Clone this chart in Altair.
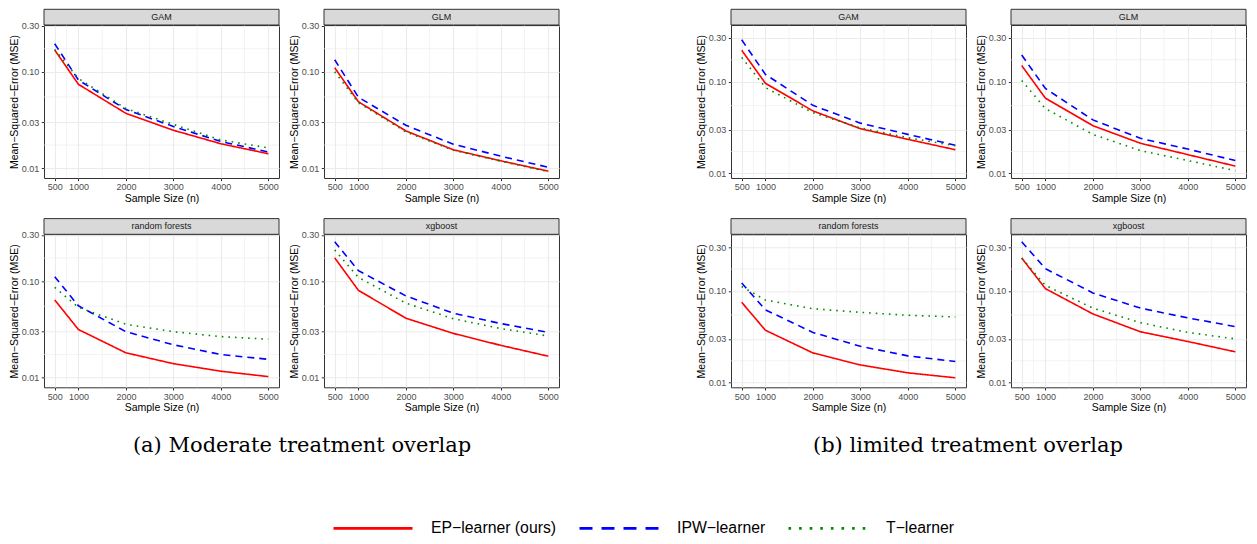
import altair as alt
import pandas as pd

# ---------------- data ----------------
N = [500, 1000, 2000, 3000, 4000, 5000]
LEARNERS = ["EP−learner (ours)", "IPW−learner", "T−learner"]
COLORS = ["#FF0000", "#0000FF", "#008B00"]
PLOT_DASH = [[1, 0], [7, 5], [1.6, 5]]
LEGEND_DASH = [[1, 0], [13, 9], [2.6, 8]]
MODELS = ["GAM", "GLM", "random forests", "xgboost"]

# (a) moderate treatment overlap
A_GAM_EP = [0.168, 0.074, 0.037, 0.0247, 0.0179, 0.0141]
A_GAM_IPW = [0.195, 0.082, 0.0405, 0.027, 0.0189, 0.0147]
A_GAM_T = [0.170, 0.085, 0.0415, 0.0284, 0.0196, 0.0162]
A_GLM_EP = [0.110, 0.0488, 0.0243, 0.0155, 0.0119, 0.0093]
A_GLM_IPW = [0.133, 0.0543, 0.0278, 0.0177, 0.0133, 0.0102]
A_GLM_T = [0.100, 0.0477, 0.0237, 0.0153, 0.0118, 0.0092]
A_RF_EP = [0.0637, 0.0314, 0.0180, 0.0139, 0.0116, 0.0102]
A_RF_IPW = [0.111, 0.0553, 0.0298, 0.0218, 0.0173, 0.0154]
A_RF_T = [0.086, 0.0532, 0.0356, 0.0298, 0.0265, 0.0249]
A_XGB_EP = [0.174, 0.080, 0.0411, 0.0286, 0.0215, 0.0166]
A_XGB_IPW = [0.255, 0.128, 0.070, 0.0463, 0.0362, 0.0293]
A_XGB_T = [0.210, 0.109, 0.0589, 0.0406, 0.0321, 0.0269]

# (b) limited treatment overlap
B_GAM_EP = [0.220, 0.096, 0.048, 0.0307, 0.0235, 0.0181]
B_GAM_IPW = [0.286, 0.120, 0.0552, 0.0353, 0.0266, 0.0203]
B_GAM_T = [0.184, 0.0863, 0.0458, 0.0313, 0.0245, 0.0200]
B_GLM_EP = [0.150, 0.066, 0.0331, 0.0213, 0.0160, 0.0120]
B_GLM_IPW = [0.195, 0.0843, 0.0383, 0.0241, 0.0184, 0.0138]
B_GLM_T = [0.103, 0.0509, 0.0266, 0.0177, 0.0138, 0.0107]
B_RF_EP = [0.0752, 0.0373, 0.0211, 0.0156, 0.0128, 0.0113]
B_RF_IPW = [0.122, 0.0623, 0.0353, 0.0249, 0.0196, 0.0170]
B_RF_T = [0.112, 0.0796, 0.064, 0.0585, 0.0543, 0.0521]
B_XGB_EP = [0.229, 0.106, 0.0562, 0.0359, 0.0281, 0.0217]
B_XGB_IPW = [0.344, 0.175, 0.0952, 0.065, 0.0509, 0.0409]
B_XGB_T = [0.229, 0.115, 0.065, 0.0451, 0.0353, 0.030]

Y_TICKS = [0.01, 0.03, 0.1, 0.3]
Y_MINOR = [0.01732, 0.05477, 0.1732]
X_MINOR = [750, 1500, 2500, 3500, 4500]
CAPTIONS = ["(a) Moderate treatment overlap", "(b) limited treatment overlap"]

SERIES = {
    "A": {
        "GAM": [A_GAM_EP, A_GAM_IPW, A_GAM_T],
        "GLM": [A_GLM_EP, A_GLM_IPW, A_GLM_T],
        "random forests": [A_RF_EP, A_RF_IPW, A_RF_T],
        "xgboost": [A_XGB_EP, A_XGB_IPW, A_XGB_T],
    },
    "B": {
        "GAM": [B_GAM_EP, B_GAM_IPW, B_GAM_T],
        "GLM": [B_GLM_EP, B_GLM_IPW, B_GLM_T],
        "random forests": [B_RF_EP, B_RF_IPW, B_RF_T],
        "xgboost": [B_XGB_EP, B_XGB_IPW, B_XGB_T],
    },
}
Y_DOMAIN = {"A": [0.0079, 0.305], "B": [0.0089, 0.415]}

rows = []
for grp, models in SERIES.items():
    for model, series in models.items():
        for learner, vals in zip(LEARNERS, series):
            for n, v in zip(N, vals):
                rows.append({"grp": grp, "model": model, "learner": learner, "n": n, "mse": v})
df = pd.DataFrame(rows)

# ---------------- layout constants ----------------
W, H = 235, 153
STRIP_H = 15.7
SPACER_W = 81.4
FONT = "Liberation Sans"

x_scale = alt.Scale(domain=[275, 5225], nice=False, zero=False)


def x_axis():
    return alt.Axis(values=N, format="d", title="Sample Size (n)", grid=True,
                    gridColor="#EBEBEB", gridWidth=1.1, domain=False,
                    tickColor="#333333", tickSize=2.7, tickWidth=1,
                    labelColor="#4D4D4D", labelFontSize=9, labelFont=FONT,
                    labelPadding=2, labelOverlap=False, labelFlush=False,
                    titleFont=FONT, titleFontSize=10.5, titleFontWeight="normal",
                    titleColor="black", titlePadding=1.5)


def y_axis():
    return alt.Axis(values=Y_TICKS, format=".2f", title="Mean−Squared−Error (MSE)",
                    grid=True, gridColor="#EBEBEB", gridWidth=1.1, domain=False,
                    tickColor="#333333", tickSize=2.7, tickWidth=1,
                    labelColor="#4D4D4D", labelFontSize=9, labelFont=FONT,
                    labelPadding=2.5, labelOverlap=False, labelFlush=False,
                    titleFont=FONT, titleFontSize=10.5, titleFontWeight="normal",
                    titleColor="black", titlePadding=2)


def panel(grp, model):
    y_scale = alt.Scale(type="log", domain=Y_DOMAIN[grp], nice=False, zero=False)
    sub = df[(df.grp == grp) & (df.model == model)]
    xminor = alt.Chart(pd.DataFrame({"n": X_MINOR})).mark_rule(
        color="#EBEBEB", strokeWidth=0.6).encode(
        x=alt.X("n:Q", scale=x_scale, axis=x_axis()))
    yminor = alt.Chart(pd.DataFrame({"mse": Y_MINOR})).mark_rule(
        color="#EBEBEB", strokeWidth=0.6).encode(
        y=alt.Y("mse:Q", scale=y_scale, axis=y_axis()))
    lines = alt.Chart(sub).mark_line(strokeWidth=1.6).encode(
        x=alt.X("n:Q", scale=x_scale, axis=x_axis()),
        y=alt.Y("mse:Q", scale=y_scale, axis=y_axis()),
        color=alt.Color("learner:N", scale=alt.Scale(domain=LEARNERS, range=COLORS), legend=None),
        strokeDash=alt.StrokeDash("learner:N", scale=alt.Scale(domain=LEARNERS, range=PLOT_DASH),
                                  legend=None),
        order=alt.Order("n:Q"),
    )
    strip_df = pd.DataFrame({"label": [model]})
    strip = alt.Chart(strip_df).mark_rect(fill="#D9D9D9", stroke="#333333", strokeWidth=1).encode(
        x=alt.value(0), x2=alt.value(W), y=alt.value(-STRIP_H), y2=alt.value(0))
    strip_text = alt.Chart(strip_df).mark_text(
        font=FONT, fontSize=9, color="#1A1A1A", baseline="middle", align="center").encode(
        x=alt.value(W / 2), y=alt.value(-STRIP_H / 2), text="label:N")
    return alt.layer(xminor, yminor, lines, strip, strip_text).properties(width=W, height=H)


spacer_top = alt.Chart(pd.DataFrame({"v": [0]})).mark_point(opacity=0).properties(
    width=SPACER_W, height=H, view=alt.ViewBackground(stroke="transparent"))


def legend_spec():
    return alt.Legend(orient="none", legendX=-272, legendY=284,
                      direction="horizontal", title=None,
                      symbolType="stroke", symbolSize=6241,
                      symbolStrokeWidth=2.7, clipHeight=20,
                      labelFont=FONT, labelFontSize=15.8, labelColor="black",
                      labelOffset=17, columnPadding=21, padding=0, labelLimit=400)


leg_df = pd.DataFrame({"learner": LEARNERS})
legend_layer = alt.Chart(leg_df).mark_line(strokeWidth=2.7).encode(
    x=alt.value(0), y=alt.value(0),
    color=alt.Color("learner:N", scale=alt.Scale(domain=LEARNERS, range=COLORS),
                    legend=legend_spec()),
    strokeDash=alt.StrokeDash("learner:N", scale=alt.Scale(domain=LEARNERS, range=LEGEND_DASH),
                              legend=legend_spec()),
)
cap_df_a = pd.DataFrame({"t": [CAPTIONS[0]]})
cap_df_b = pd.DataFrame({"t": [CAPTIONS[1]]})
cap_a = alt.Chart(cap_df_a).mark_text(font="DejaVu Serif", fontSize=21, color="black",
                                      align="center", baseline="middle").encode(
    x=alt.value(-302), y=alt.value(212), text="t:N")
cap_b = alt.Chart(cap_df_b).mark_text(font="DejaVu Serif", fontSize=21, color="black",
                                      align="center", baseline="middle").encode(
    x=alt.value(364), y=alt.value(212), text="t:N")
spacer_bottom = alt.layer(legend_layer, cap_a, cap_b).properties(
    width=SPACER_W, height=H, view=alt.ViewBackground(stroke="transparent"))

chart = alt.concat(
    panel("A", "GAM"), panel("A", "GLM"), spacer_top, panel("B", "GAM"), panel("B", "GLM"),
    panel("A", "random forests"), panel("A", "xgboost"), spacer_bottom,
    panel("B", "random forests"), panel("B", "xgboost"),
    columns=5, spacing={"row": 56.3, "column": 45}, bounds="flush", align="each",
).resolve_scale(
    x="independent", y="independent", color="independent", strokeDash="independent"
).properties(padding=0, background="white").configure_view(
    stroke="#333333", strokeWidth=1
)

chart.save("out.html", embed_options={"renderer": "svg", "actions": False})
